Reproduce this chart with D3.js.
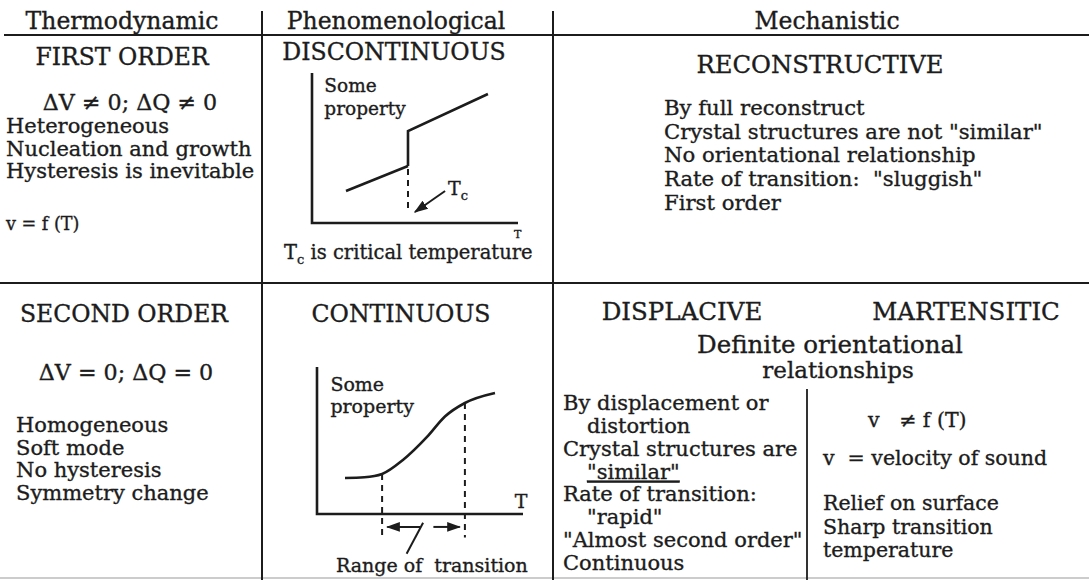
<!DOCTYPE html>
<html>
<head>
<meta charset="utf-8">
<script src="https://cdn.jsdelivr.net/npm/d3@7"></script>
<style>
  body { margin: 0; background: #fff; }
  svg { display: block; }
  text { font-family: "DejaVu Serif", "Liberation Serif", serif; fill: #1c1c1c; stroke: #1c1c1c; stroke-width: 0.35px; white-space: pre; }
</style>
</head>
<body>
<div id="chart"></div>
<script>
// column headings and cell contents
const columnHeaders = ['Thermodynamic', 'Phenomenological', 'Mechanistic'];
const rowTitles = ['FIRST ORDER', 'SECOND ORDER'];
const phenoTitles = ['DISCONTINUOUS', 'CONTINUOUS'];
const mechTitles = ['RECONSTRUCTIVE', 'DISPLACIVE', 'MARTENSITIC'];

const firstOrderEq = 'ΔV ≠ 0; ΔQ ≠ 0';
const firstOrderLines = ['Heterogeneous', 'Nucleation and growth', 'Hysteresis is inevitable'];
const firstOrderVel = 'v = f (T)';

const secondOrderEq = 'ΔV = 0; ΔQ = 0';
const secondOrderLines = ['Homogeneous', 'Soft mode', 'No hysteresis', 'Symmetry change'];

const reconstructiveLines = [
  'By full reconstruct',
  'Crystal structures are not "similar"',
  'No orientational relationship',
  'Rate of transition:  "sluggish"',
  'First order'
];
const sharedLines = ['Definite orientational', 'relationships'];
// each item: first line, then indented continuation lines
const displaciveItems = [
  ['By displacement or', 'distortion'],
  ['Crystal structures are', '"similar"'],
  ['Rate of transition:', '"rapid"'],
  ['"Almost second order"'],
  ['Continuous']
];
const martensiticVel = ['v   ≠ f (T)', 'v  = velocity of sound'];
const martensiticLines = ['Relief on surface', 'Sharp transition', 'temperature'];

// sketch plots (arbitrary units 0..10)
const discLow = [[1.65, 2.13], [4.66, 3.8]];
const discHigh = [[4.66, 3.8], [4.66, 6.13], [8.54, 8.6]];
const tcX = 4.66;
const contCurve = [[1.36, 2.45], [2.3, 2.5], [3.16, 2.72], [4.17, 3.67], [5.34, 5.24], [6.21, 6.63], [7.18, 7.55], [8.64, 8.23]];
const rangeX = [3.16, 7.18];

const W = 1089, H = 580;
const ink = '#1c1c1c';

const svg = d3.select('#chart').append('svg')
  .attr('width', W)
  .attr('height', H);

svg.append('defs').append('marker')
  .attr('id', 'arr')
  .attr('viewBox', '0 0 10 10')
  .attr('refX', 9).attr('refY', 5)
  .attr('markerWidth', 7).attr('markerHeight', 7)
  .attr('orient', 'auto-start-reverse')
  .append('path')
  .attr('d', 'M0,1.5 L10,5 L0,8.5 Z')
  .attr('fill', ink);

// table rules
const rule = (x1, y1, x2, y2, w) => svg.append('line')
  .attr('x1', x1).attr('y1', y1).attr('x2', x2).attr('y2', y2)
  .attr('stroke', ink).attr('stroke-width', w || 2);

rule(4, 35, W, 35, 2.2);
rule(0, 283, W, 283, 2.2);
rule(0, 578, W, 578, 1).attr('stroke', '#999');
rule(262, 11, 262, H, 2);
rule(553, 11, 553, H, 2);
rule(807, 389, 807, H, 1.8);

const txt = (s, x, y, size, anchor) => svg.append('text')
  .attr('x', x).attr('y', y)
  .attr('font-size', size)
  .attr('text-anchor', anchor || 'start')
  .text(s);

// headers
const headerX = [122, 396, 827];
columnHeaders.forEach((h, i) => {
  txt(h, headerX[i], 29, 23.5, 'middle');
});

// thermodynamic column
txt(rowTitles[0], 122, 65, 23.5, 'middle');
txt(firstOrderEq, 130, 110, 22.2, 'middle');
firstOrderLines.forEach((s, i) => txt(s, 6, 133 + i * 22.7, 21));
txt(firstOrderVel, 6, 230, 17.6);

txt(rowTitles[1], 124, 322, 23.5, 'middle');
txt(secondOrderEq, 126, 380, 22.2, 'middle');
secondOrderLines.forEach((s, i) => txt(s, 16, 432 + i * 22.7, 21));

// phenomenological column
txt(phenoTitles[0], 394, 60, 23.6, 'middle');
txt(phenoTitles[1], 401, 322, 23.6, 'middle');

// mechanistic column
txt(mechTitles[0], 820, 73, 24.3, 'middle');
reconstructiveLines.forEach((s, i) => txt(s, 664, 115 + i * 23.7, 21.2));

txt(mechTitles[1], 682, 320, 24.5, 'middle');
txt(mechTitles[2], 966, 320, 24.5, 'middle');
sharedLines.forEach((s, i) => txt(s, i ? 838 : 830, 353 + i * 25, i ? 23 : 24.5, 'middle'));

let row = 0;
displaciveItems.forEach(item => {
  item.forEach((s, j) => {
    const t = txt(s, j ? 587 : 563, 410 + row * 22.86, 21);
    if (s === '"similar"') t.attr('text-decoration', 'underline');
    row++;
  });
});

txt(martensiticVel[0], 868, 427, 20.5);
txt(martensiticVel[1], 823, 465, 20.5);
martensiticLines.forEach((s, i) => txt(s, 823, 510 + i * 23.5, 20.5));

// ---- discontinuous sketch
const x1 = d3.scaleLinear().domain([0, 10]).range([312, 518]);
const y1 = d3.scaleLinear().domain([0, 10]).range([223, 73]);
const line1 = d3.line().x(d => x1(d[0])).y(d => y1(d[1]));
const g1 = svg.append('g');

g1.append('path')
  .attr('d', line1([[0, 10], [0, 0], [10, 0]]))
  .attr('fill', 'none').attr('stroke', ink).attr('stroke-width', 2.6);
[discLow, discHigh].forEach(seg => {
  g1.append('path')
    .attr('d', line1(seg))
    .attr('fill', 'none').attr('stroke', ink).attr('stroke-width', 2.6);
});
g1.append('path')
  .attr('d', line1([[tcX, 3.6], [tcX, 0.67]]))
  .attr('stroke', ink).attr('stroke-width', 2).attr('stroke-dasharray', '6,5');
g1.append('path')
  .attr('d', line1([[6.46, 2.13], [5.0, 0.73]]))
  .attr('stroke', ink).attr('stroke-width', 2).attr('marker-end', 'url(#arr)');

const tc1 = g1.append('text').attr('x', x1(6.6)).attr('y', y1(1.9)).attr('font-size', 19);
tc1.append('tspan').text('T');
tc1.append('tspan').attr('dy', 5).attr('font-size', 13).text('c');

g1.append('text').attr('x', x1(10) - 4).attr('y', y1(-1)).attr('font-size', 11).text('T');
g1.append('text').attr('x', x1(0.6)).attr('y', y1(8.75)).attr('font-size', 18.5).text('Some');
g1.append('text').attr('x', x1(0.6)).attr('y', y1(7.2)).attr('font-size', 18.5).text('property');

const tc2 = g1.append('text').attr('x', 284).attr('y', 259).attr('font-size', 19.5);
tc2.append('tspan').text('T');
tc2.append('tspan').attr('dy', 5).attr('font-size', 13).text('c');
tc2.append('tspan').attr('dy', -5).text(' is critical temperature');

// ---- continuous sketch
const x2 = d3.scaleLinear().domain([0, 10]).range([317, 523]);
const y2 = d3.scaleLinear().domain([0, 10]).range([514, 367]);
const line2 = d3.line().x(d => x2(d[0])).y(d => y2(d[1]));
const curve2 = d3.line().x(d => x2(d[0])).y(d => y2(d[1])).curve(d3.curveMonotoneX);
const g2 = svg.append('g');

g2.append('path')
  .attr('d', line2([[0, 10], [0, 0], [10, 0]]))
  .attr('fill', 'none').attr('stroke', ink).attr('stroke-width', 2.6);
g2.append('path')
  .attr('d', curve2(contCurve))
  .attr('fill', 'none').attr('stroke', ink).attr('stroke-width', 2.6);

rangeX.forEach(rx => {
  const top = contCurve.find(p => p[0] === rx)[1];
  g2.append('path')
    .attr('d', line2([[rx, top], [rx, -1.6]]))
    .attr('stroke', ink).attr('stroke-width', 2).attr('stroke-dasharray', '6,5');
});
g2.append('path')
  .attr('d', line2([[5.0, -0.88], [rangeX[0] + 0.25, -0.88]]))
  .attr('stroke', ink).attr('stroke-width', 2).attr('marker-end', 'url(#arr)');
g2.append('path')
  .attr('d', line2([[5.65, -0.88], [rangeX[1] - 0.25, -0.88]]))
  .attr('stroke', ink).attr('stroke-width', 2).attr('marker-end', 'url(#arr)');
g2.append('path')
  .attr('d', line2([[5.15, -0.6], [4.35, -2.7]]))
  .attr('stroke', ink).attr('stroke-width', 2);

g2.append('text').attr('x', x2(9.6)).attr('y', y2(0.4)).attr('font-size', 19).text('T');
g2.append('text').attr('x', x2(0.65)).attr('y', y2(8.4)).attr('font-size', 19).text('Some');
g2.append('text').attr('x', x2(0.65)).attr('y', y2(6.9)).attr('font-size', 19).text('property');
g2.append('text').attr('x', 336).attr('y', 572).attr('font-size', 19).text('Range of  transition');
</script>
</body>
</html>
